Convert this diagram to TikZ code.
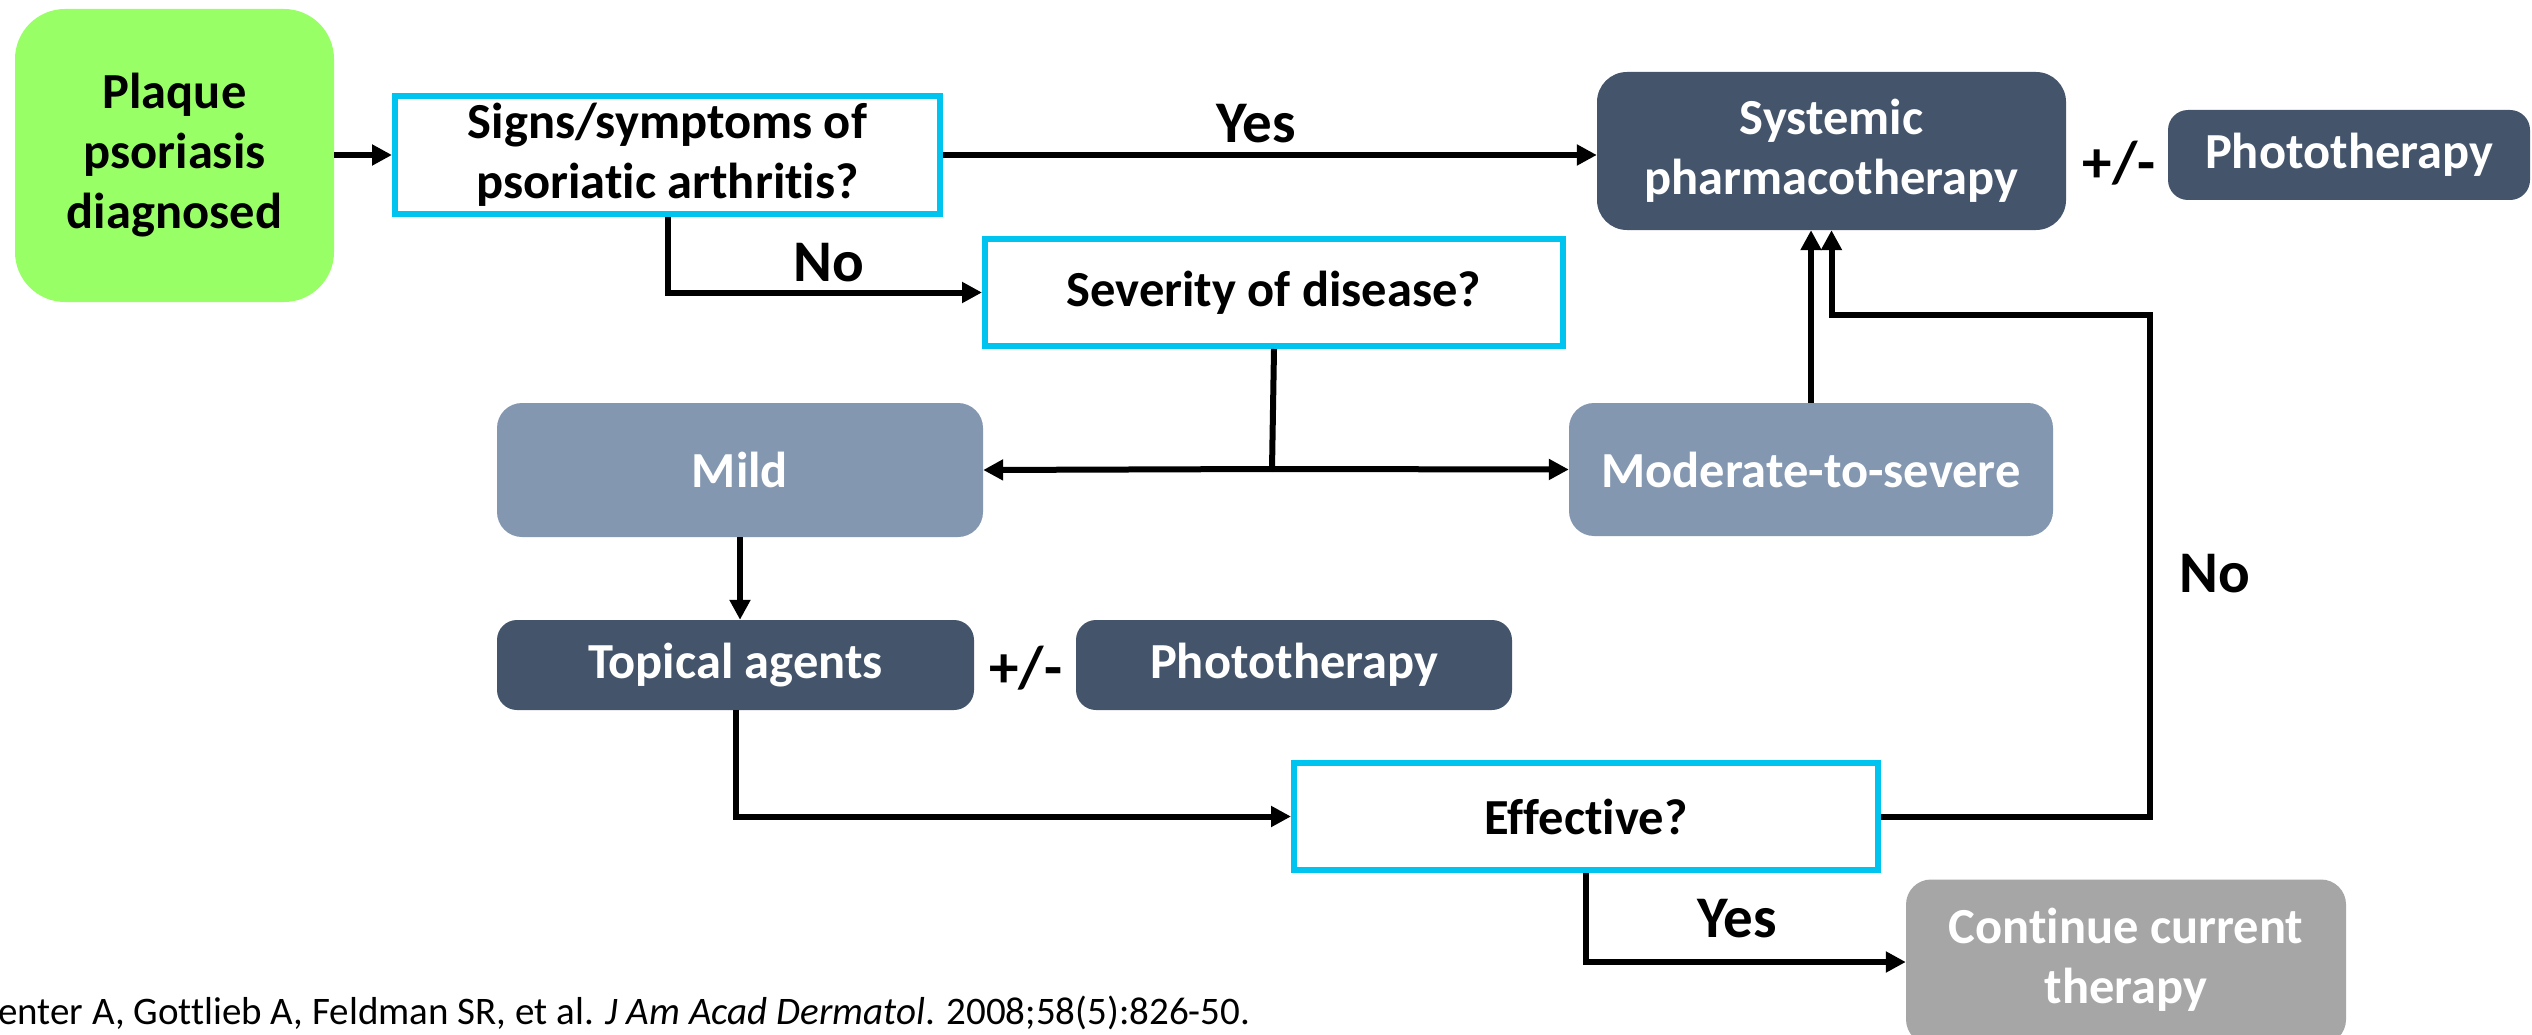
\documentclass[tikz,border=0pt]{standalone}
\usepackage{fontspec}
\setmainfont{Carlito}[Ligatures={NoCommon}]
\usetikzlibrary{arrows.meta,calc}
\definecolor{cgreen}{HTML}{99FF66}
\definecolor{cdark}{HTML}{44546A}
\definecolor{cmid}{HTML}{8497B0}
\definecolor{cgray}{HTML}{A6A6A6}
\definecolor{ccyan}{HTML}{00C4F0}
\tikzset{
  txt/.style={font=\fontsize{50.5}{60}\selectfont\bfseries, align=center, inner sep=0pt},
  qbox/.style={txt, draw=ccyan, line width=6pt, fill=white, text=black},
  fbox/.style={txt, text=white},
  arr/.style={line width=6pt, -{Triangle[length=20pt,width=20pt]}},
  ln/.style={line width=6pt},
  lbl/.style={font=\fontsize{59}{70}\selectfont\bfseries, inner sep=0pt},
}
\begin{document}
\begin{tikzpicture}[x=1pt,y=-1pt]
\useasboundingbox[fill=white] (0,0) rectangle (2532,1035);
% boxes
\node[fbox, fill=cgreen, text=black, rounded corners=50pt, minimum width=319pt, minimum height=293pt] (green) at (174.5,155.5) {Plaque\\psoriasis\\diagnosed};
\node[qbox, minimum width=545pt, minimum height=118pt] (signs) at (667.5,155) {Signs/symptoms of\\psoriatic arthritis?};
\node[fbox, fill=cdark, rounded corners=30pt, minimum width=469pt, minimum height=158pt] (systemic) at (1831.5,151) {Systemic\\pharmacotherapy};
\node[lbl] (pm1) at (2119,163) {+/-};
\node[fbox, fill=cdark, rounded corners=20pt, minimum width=362pt, minimum height=90pt] (photo1) at (2349,155) {Phototherapy};
\node[qbox, minimum width=578pt, minimum height=107pt] (severity) at (1274,292.5) {Severity of disease?};
\node[fbox, fill=cmid, rounded corners=25pt, minimum width=486pt, minimum height=134pt] (mild) at (740,470) {Mild};
\node[fbox, fill=cmid, rounded corners=25pt, minimum width=484pt, minimum height=133pt] (moderate) at (1811,469.5) {Moderate-to-severe};
\node[fbox, fill=cdark, rounded corners=20pt, minimum width=477pt, minimum height=90pt] (topical) at (735.5,665) {Topical agents};
\node[lbl] (pm2) at (1026,668) {+/-};
\node[fbox, fill=cdark, rounded corners=20pt, minimum width=436pt, minimum height=90pt] (photo2) at (1294,665) {Phototherapy};
\node[qbox, minimum width=584pt, minimum height=107pt] (effective) at (1586,816.5) {Effective?};
\node[fill=cgray, rounded corners=25pt, minimum width=440pt, minimum height=165pt, inner sep=0pt] (continue) at (2126,962) {};
\node[fbox] (conttext) at (2126,960) {Continue current\\therapy};
% labels
\node[lbl] (yes1) at (1256,124) {Yes};
\node[lbl] (no1) at (829,263) {No};
\node[lbl] (no2) at (2215,574) {No};
\node[lbl] (yes2) at (1737,919) {Yes};
% citation
\node[anchor=west, inner sep=0pt, font=\fontsize{39}{46}\selectfont] (cite) at (-2,1013) {enter A, Gottlieb A, Feldman SR, et al. \textit{J Am Acad Dermatol}. 2008;58(5):826-50.};
% connectors
\coordinate (split) at (1272,469);
\coordinate (noturn) at (2150,315);
\draw[arr] (green.east |- 0,155) -- (signs.west |- 0,155);
\draw[arr] (signs.east) -- (signs.east -| systemic.west);
\draw[arr] (signs.south) |- (severity.west);
\draw[ln] (severity.south) -- (split);
\draw[arr] (split) -- (mild.east);
\draw[arr] (split) -- (moderate.west);
\draw[arr] (moderate.north) -- (moderate.north |- systemic.south);
\draw[arr] (effective.east) -- (effective.east -| noturn) -- (noturn) -- (noturn -| systemic.south) -- (systemic.south);
\draw[arr] (mild.south) -- (mild.south |- topical.north);
\draw[arr] (topical.south) |- (effective.west);
\draw[arr] (effective.south) |- (continue.west);
\end{tikzpicture}
\end{document}
